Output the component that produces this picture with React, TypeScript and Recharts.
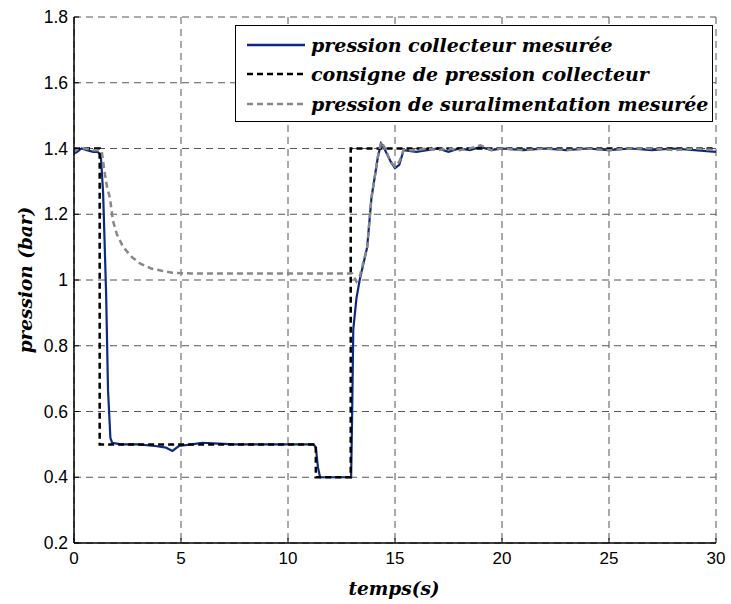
import { LineChart, Line, XAxis, YAxis, CartesianGrid } from 'recharts'

// ─── Data ────────────────────────────────────────────────────────────────────

const X_TICKS = [0, 5, 10, 15, 20, 25, 30]
const Y_TICKS = [0.2, 0.4, 0.6, 0.8, 1, 1.2, 1.4, 1.6, 1.8]

// pression collecteur mesurée
const MEAS_T = [
  0, 0.15, 0.35, 0.6, 0.9, 1.1, 1.25, 1.3, 1.36, 1.42, 1.5, 1.59, 1.7, 1.78,
  2.2, 3, 3.8, 4.3, 4.6, 4.9, 5.5, 6, 6.5, 7.5, 8.5, 9.5, 10.5, 11.2, 11.3,
  11.4, 11.5, 12, 12.6, 12.95, 13.0, 13.05, 13.2, 13.35, 13.7, 13.9, 14.2,
  14.35, 14.5, 14.8, 15.0, 15.2, 15.4, 16, 16.5, 17, 17.5, 18, 18.5, 19, 19.5,
  20, 21, 22, 23, 24, 25, 26, 27, 28, 29, 30,
]
const MEAS_V = [
  1.385, 1.39, 1.4, 1.395, 1.39, 1.39, 1.38, 1.33, 1.265, 1.137, 0.96, 0.665, 0.52, 0.505,
  0.5, 0.5, 0.495, 0.49, 0.48, 0.495, 0.5, 0.505, 0.503, 0.5, 0.5, 0.5, 0.5, 0.5, 0.49,
  0.43, 0.4, 0.4, 0.4, 0.4, 0.6, 0.85, 0.945, 1.0, 1.1, 1.25, 1.374,
  1.415, 1.4, 1.36, 1.34, 1.35, 1.395, 1.39, 1.395, 1.4, 1.39, 1.4, 1.395, 1.405, 1.395,
  1.4, 1.395, 1.4, 1.395, 1.4, 1.395, 1.4, 1.395, 1.4, 1.395, 1.39,
]

// consigne de pression collecteur
const SET_T = [0, 1.2, 1.2, 11.3, 11.3, 12.93, 12.93, 30]
const SET_V = [1.4, 1.4, 0.5, 0.5, 0.4, 0.4, 1.4, 1.4]

// pression de suralimentation mesurée
const BOOST_T = [
  0, 0.2, 0.5, 0.9, 1.2, 1.3, 1.36, 1.45, 1.55, 1.68, 1.82, 2.0, 2.3, 2.7, 3.1,
  3.6, 4.1, 4.6, 5.5, 8, 10, 12, 12.9, 13.0, 13.2, 13.35, 13.7, 13.9, 14.2,
  14.35, 14.5, 14.8, 15.0, 15.2, 15.4, 16, 16.5, 17, 17.5, 18, 18.5, 19, 19.5,
  20, 21, 22, 23, 24, 25, 26, 27, 28, 29, 30,
]
const BOOST_V = [
  1.39, 1.4, 1.4, 1.395, 1.395, 1.39, 1.36, 1.32, 1.28, 1.25, 1.18, 1.14, 1.1, 1.07, 1.05,
  1.035, 1.028, 1.022, 1.02, 1.02, 1.02, 1.02, 1.02, 1.02, 0.995, 1.01, 1.1, 1.25, 1.375,
  1.42, 1.405, 1.36, 1.345, 1.36, 1.395, 1.395, 1.4, 1.395, 1.4, 1.395, 1.4, 1.41, 1.395,
  1.4, 1.395, 1.4, 1.395, 1.4, 1.395, 1.4, 1.4, 1.395, 1.4, 1.395,
]

const SERIES_NAMES = [
  'pression collecteur mesurée',
  'consigne de pression collecteur',
  'pression de suralimentation mesurée',
]
const SERIES_COLORS = ['#0c2a80', '#000000', '#888888']

const measData = MEAS_T.map((t, i) => ({ t, v: MEAS_V[i] }))
const setData = SET_T.map((t, i) => ({ t, v: SET_V[i] }))
const boostData = BOOST_T.map((t, i) => ({ t, v: BOOST_V[i] }))

const SERIF = '"DejaVu Serif", "Liberation Serif", serif'
const SANS = '"Liberation Sans", Arial, sans-serif'

const titleStyle = {
  position: 'absolute' as const,
  fontFamily: SERIF,
  fontWeight: 'bold',
  fontStyle: 'italic',
  fontSize: 18.5,
  whiteSpace: 'nowrap' as const,
  color: '#000',
}

const axisLine = { stroke: '#000', strokeWidth: 1.5 }
const fmtY = (v: number) => String(Math.round(v * 10) / 10)

// MATLAB-style ticks: short mark pointing into the plot, label outside
function BottomTick({ x, y, payload }: any) {
  return (
    <g>
      <line x1={x} x2={x} y1={y} y2={y - 5} stroke="#000" />
      <text x={x} y={y + 15} textAnchor="middle" dominantBaseline="central"
        fontSize={17} fontFamily={SANS} fill="#000">{payload.value}</text>
    </g>
  )
}
function LeftTick({ x, y, payload }: any) {
  return (
    <g>
      <line x1={x} x2={x + 5} y1={y} y2={y} stroke="#000" />
      <text x={x - 6} y={y} textAnchor="end" dominantBaseline="central"
        fontSize={17.5} fontFamily={SANS} fill="#000">{fmtY(payload.value)}</text>
    </g>
  )
}
function TopTick({ x, y }: any) {
  return <line x1={x} x2={x} y1={y} y2={y + 5} stroke="#000" />
}
function RightTick({ x, y }: any) {
  return <line x1={x} x2={x - 5} y1={y} y2={y} stroke="#000" />
}

function LegendBox() {
  const dashes = [undefined, '6 4', '6 4']
  return (
    <div style={{
      position: 'absolute',
      left: 235,
      top: 25,
      width: 478,
      height: 97,
      border: '1.5px solid #000',
      background: '#fff',
      boxSizing: 'border-box',
      paddingTop: 4,
    }}>
      {SERIES_NAMES.map((name, i) => (
        <div key={name} style={{ display: 'flex', alignItems: 'center', height: 29.5 }}>
          <svg width={75} height={10} style={{ flex: 'none' }}>
            <line x1={11} x2={69} y1={5} y2={5} stroke={SERIES_COLORS[i]} strokeWidth={2.5} strokeDasharray={dashes[i]} />
          </svg>
          <span style={{
            fontFamily: SERIF,
            fontWeight: 'bold',
            fontStyle: 'italic',
            fontSize: 19,
            color: '#000',
            whiteSpace: 'nowrap',
          }}>{name}</span>
        </div>
      ))}
    </div>
  )
}

export default function App() {
  return (
    <div style={{ position: 'absolute', left: 0, top: 0, width: 731, height: 604, background: '#fff' }}>
      <LineChart
        width={731}
        height={604}
        margin={{ top: 17, right: 15, bottom: 31, left: 0 }}
      >
        <CartesianGrid stroke="#555" strokeDasharray="7 5" strokeWidth={1} />
        <XAxis
          dataKey="t"
          type="number"
          domain={[0, 30]}
          ticks={X_TICKS}
          allowDuplicatedCategory={false}
          height={30}
          axisLine={axisLine}
          tickLine={false}
          tickSize={0}
          tickMargin={0}
          tick={<BottomTick />}
        />
        <XAxis
          xAxisId="top"
          orientation="top"
          dataKey="t"
          type="number"
          domain={[0, 30]}
          ticks={X_TICKS}
          height={0}
          axisLine={axisLine}
          tickLine={false}
          tickSize={0}
          tickMargin={0}
          tick={<TopTick />}
        />
        <YAxis
          type="number"
          domain={[0.2, 1.8]}
          ticks={Y_TICKS}
          width={74}
          axisLine={axisLine}
          tickLine={false}
          tickSize={0}
          tickMargin={0}
          tick={<LeftTick />}
        />
        <YAxis
          yAxisId="right"
          orientation="right"
          type="number"
          domain={[0.2, 1.8]}
          ticks={Y_TICKS}
          width={0}
          axisLine={axisLine}
          tickLine={false}
          tickSize={0}
          tickMargin={0}
          tick={<RightTick />}
        />
        <Line
          data={measData}
          dataKey="v"
          name={SERIES_NAMES[0]}
          type="linear"
          stroke={SERIES_COLORS[0]}
          strokeWidth={2.2}
          dot={false}
          isAnimationActive={false}
        />
        <Line
          data={setData}
          dataKey="v"
          name={SERIES_NAMES[1]}
          type="linear"
          stroke={SERIES_COLORS[1]}
          strokeWidth={2.5}
          strokeDasharray="6 4"
          dot={false}
          isAnimationActive={false}
        />
        <Line
          data={boostData}
          dataKey="v"
          name={SERIES_NAMES[2]}
          type="linear"
          stroke={SERIES_COLORS[2]}
          strokeWidth={2.5}
          strokeDasharray="6 4"
          dot={false}
          isAnimationActive={false}
        />
      </LineChart>

      <LegendBox />

      {/* Axis titles */}
      <div style={{ ...titleStyle, left: 394, top: 588, transform: 'translate(-50%, -50%)' }}>temps(s)</div>
      <div style={{ ...titleStyle, left: 25, top: 280, transform: 'translate(-50%, -50%) rotate(-90deg)' }}>pression (bar)</div>
    </div>
  )
}
